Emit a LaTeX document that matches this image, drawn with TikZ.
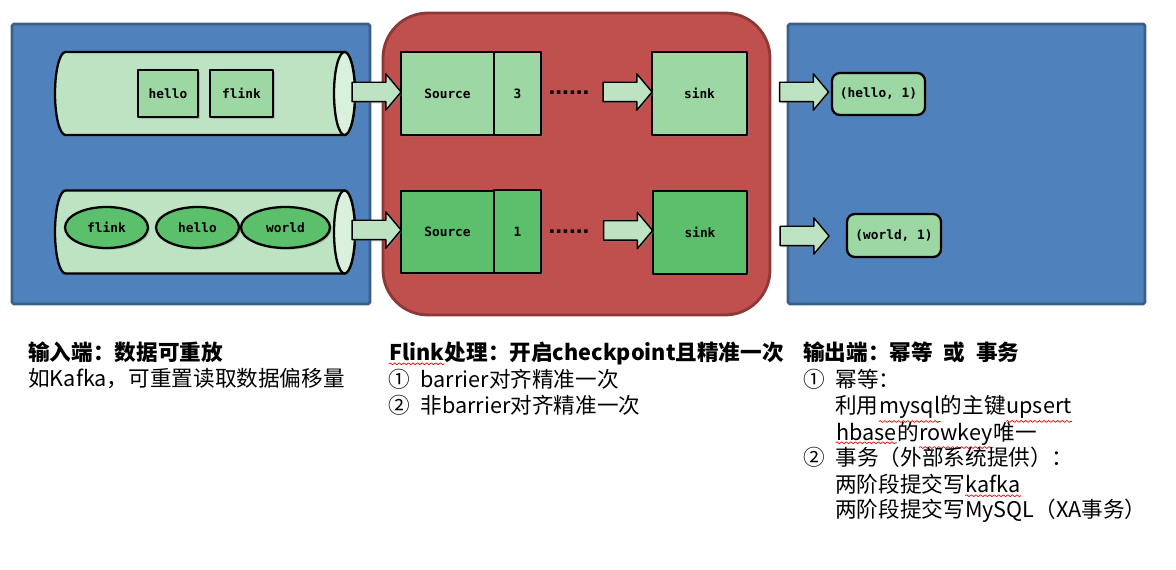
\documentclass[tikz,border=0pt]{standalone}
\usepackage{fontspec}
\usetikzlibrary{shapes.geometric,shapes.arrows,shadows,decorations.pathmorphing}
\newfontfamily\cjk{Noto Sans CJK SC}
\newfontfamily\monolab{DejaVu Sans Mono}
\newfontfamily\dotfont{Liberation Sans}
\newcommand\boxfont{\monolab\bfseries\fontsize{7.3}{8}\selectfont}
\newcommand\notefont{\cjk\fontsize{12.3}{14}\selectfont}
% red wavy line of the spell checker
\newcommand\spellwave[1]{\tikz[baseline=(w.base)]{\node[inner sep=0pt] (w) {#1};
	\draw[red, line width=0.4pt, decorate, decoration={snake, segment length=2.6pt, amplitude=0.55pt}]
		([yshift=-1.2pt]w.south west) -- ([yshift=-1.2pt]w.south east);}}
\definecolor{panelblue}{HTML}{4F81BD}
\definecolor{panelblueedge}{HTML}{3A5F8B}
\definecolor{panelred}{HTML}{C0504D}
\definecolor{panelrededge}{HTML}{8C3836}
\definecolor{palegreen}{HTML}{BEE3C3}
\definecolor{capgreen}{HTML}{D9F0DC}
\definecolor{midgreen}{HTML}{9DD7A4}
\definecolor{deepgreen}{HTML}{5CBF6B}
\begin{document}
\begin{tikzpicture}[x=0.02cm, y=-0.02cm, line join=round,
	panel/.style={line width=1.6pt},
	tube/.style={draw=black, line width=1.3pt, fill=palegreen},
	opbox/.style={draw=black, line width=1.3pt, inner sep=0pt, font=\boxfont,
		drop shadow={shadow xshift=1pt, shadow yshift=-1pt, opacity=0.35}},
	msg/.style={opbox, ellipse, fill=deepgreen, minimum height=0.82cm},
	fat/.style={single arrow, draw=black, line width=0.8pt, fill=palegreen,
		inner xsep=0pt, inner ysep=0.18cm, single arrow head extend=0.17cm,
		single arrow tip angle=100, minimum height=0.98cm,
		drop shadow={shadow xshift=1pt, shadow yshift=-1pt, opacity=0.35}},
	dotrow/.style={anchor=base, inner sep=0pt, font=\dotfont\bfseries\fontsize{14}{14}\selectfont},
	note/.style={anchor=base west, inner sep=0pt, font=\notefont}]
	\useasboundingbox (0,0) rectangle (1176,570);
	%\draw[gray!30] (0,0) grid[step=50] (1176,570);
	% three stages
	\draw[panel, draw=panelblueedge, fill=panelblue, rounded corners=1pt] (12,24) rectangle (370,304);
	\draw[panel, draw=panelrededge, fill=panelred, rounded corners=0.9cm] (383,13) rectangle (770,315);
	\draw[panel, draw=panelblueedge, fill=panelblue, rounded corners=1pt] (788,24) rectangle (1145,304);
	% kafka topics
	\foreach \y in {93.5,232}{
		\draw[tube, drop shadow={shadow xshift=1pt, shadow yshift=-1pt, opacity=0.35}]
			(65.5,\y-41.5) -- (344.5,\y-41.5) arc[start angle=-90, end angle=90, x radius=10.5, y radius=41.5]
			-- (65.5,\y+41.5) arc[start angle=90, end angle=270, x radius=10.5, y radius=41.5] -- cycle;
		\draw[tube, fill=capgreen] (344.5,\y) ellipse[x radius=10.5, y radius=41.5];
	}
	\node[opbox, fill=midgreen, minimum width=1.2cm, minimum height=0.94cm] (hello1) at (168,93.5) {hello};
	\node[opbox, fill=midgreen, minimum width=1.26cm, minimum height=0.94cm] (flink1) at (241.5,93.5) {flink};
	\node[msg, minimum width=1.66cm] (flink2) at (106.5,227.5) {flink};
	\node[msg, minimum width=1.66cm] (hello2) at (197.5,227.5) {hello};
	\node[msg, minimum width=1.78cm] (world2) at (285.5,227.5) {world};
	% flink job
	\node[opbox, fill=midgreen, minimum width=1.86cm, minimum height=1.66cm] (src1) at (447.5,93.5) {Source};
	\node[opbox, fill=midgreen, minimum width=0.94cm, minimum height=1.66cm] (off1) at (517.5,93.5) {3};
	\node[opbox, fill=midgreen, minimum width=1.9cm, minimum height=1.66cm] (sink1) at (699.5,93.5) {sink};
	\node[opbox, fill=deepgreen, minimum width=1.86cm, minimum height=1.64cm] (src2) at (447.5,232) {Source};
	\node[opbox, fill=deepgreen, minimum width=0.94cm, minimum height=1.66cm] (off2) at (517.5,231.5) {1};
	\node[opbox, fill=deepgreen, minimum width=1.88cm, minimum height=1.66cm] (sink2) at (700,232.5) {sink};
	\node[dotrow] (dots1) at (569,95) {......};
	\node[dotrow] (dots2) at (569,234) {......};
	% results
	\node[opbox, fill=midgreen, rounded corners=4.5pt, minimum width=1.86cm, minimum height=0.84cm] (out1) at (878.5,94) {(hello, 1)};
	\node[opbox, fill=midgreen, rounded corners=4.5pt, minimum width=1.88cm, minimum height=0.86cm] (out2) at (894,235.5) {(world, 1)};
	% block arrows
	\node[fat] (in1) at (372.5,92) {};
	\node[fat] (in2) at (372.5,230) {};
	\node[fat] (mid1) at (623.5,92) {};
	\node[fat] (mid2) at (624,230.5) {};
	\node[fat] (res1) at (800,92) {};
	\node[fat] (res2) at (800.5,236) {};
	% notes
	\node[note, font=\notefont\bfseries] (src0) at (28,361) {输入端：数据可重放};
	\node[note] (srcA) at (28,387) {如Kafka，可重置读取数据偏移量};
	\node[note, font=\notefont\bfseries] (job0) at (388,361) {\spellwave{Flink}处理：开启checkpoint且精准一次};
	\node[note] (jobA) at (388,388) {①\hspace{0.5em}barrier对齐精准一次};
	\node[note] (jobB) at (388,414) {②\hspace{0.5em}非barrier对齐精准一次};
	\node[note, font=\notefont\bfseries] (snk0) at (803,361) {输出端：幂等\hspace{0.5em}或\hspace{0.5em}事务};
	\node[note] (snkA) at (803,388) {①\hspace{0.5em}幂等：};
	\node[note] (snkB) at (835,414) {利用\spellwave{mysql}的主键\spellwave{upsert}};
	\node[note] (snkC) at (835,440) {\spellwave{hbase}的\spellwave{rowkey}唯一};
	\node[note] (snkD) at (803,466) {②\hspace{0.5em}事务（外部系统提供）：};
	\node[note] (snkE) at (835,493) {两阶段提交写\spellwave{kafka}};
	\node[note] (snkF) at (835,518) {两阶段提交写MySQL（XA事务）};
\end{tikzpicture}
\end{document}
